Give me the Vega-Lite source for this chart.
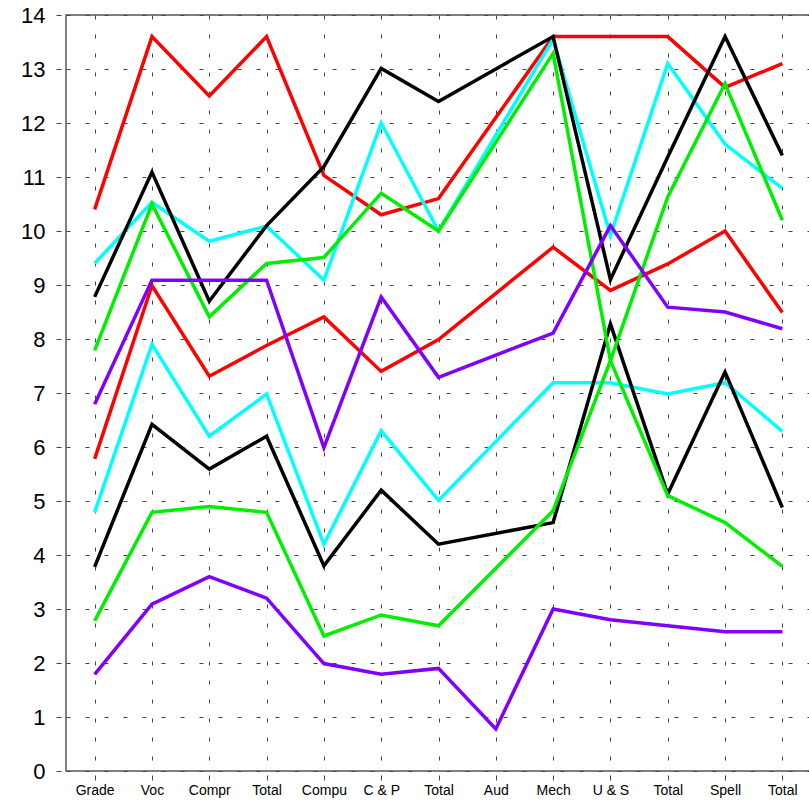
{
  "$schema": "https://vega.github.io/schema/vega-lite/v6.json",
  "width": 745,
  "height": 756,
  "autosize": "none",
  "padding": {"left": 66, "top": 15, "right": 0, "bottom": 29},
  "background": "white",
  "config": {
    "view": {"stroke": "#555555", "strokeWidth": 1.5},
    "font": "Liberation Sans"
  },
  "data": {
    "values": [
      {"series": "red1", "pos": 1, "v": 10.4}, {"series": "red1", "pos": 2, "v": 13.6}, {"series": "red1", "pos": 3, "v": 12.5}, {"series": "red1", "pos": 4, "v": 13.6}, {"series": "red1", "pos": 5, "v": 11.03}, {"series": "red1", "pos": 6, "v": 10.3}, {"series": "red1", "pos": 7, "v": 10.6}, {"series": "red1", "pos": 9, "v": 13.6}, {"series": "red1", "pos": 10, "v": 13.6}, {"series": "red1", "pos": 11, "v": 13.6}, {"series": "red1", "pos": 12, "v": 12.66}, {"series": "red1", "pos": 13, "v": 13.1},
      {"series": "red2", "pos": 1, "v": 5.78}, {"series": "red2", "pos": 2, "v": 8.99}, {"series": "red2", "pos": 3, "v": 7.31}, {"series": "red2", "pos": 4, "v": 7.88}, {"series": "red2", "pos": 5, "v": 8.41}, {"series": "red2", "pos": 6, "v": 7.4}, {"series": "red2", "pos": 7, "v": 7.99}, {"series": "red2", "pos": 9, "v": 9.7}, {"series": "red2", "pos": 10, "v": 8.9}, {"series": "red2", "pos": 11, "v": 9.39}, {"series": "red2", "pos": 12, "v": 10.0}, {"series": "red2", "pos": 13, "v": 8.49},
      {"series": "cyan1", "pos": 1, "v": 9.4}, {"series": "cyan1", "pos": 2, "v": 10.53}, {"series": "cyan1", "pos": 3, "v": 9.81}, {"series": "cyan1", "pos": 4, "v": 10.09}, {"series": "cyan1", "pos": 5, "v": 9.09}, {"series": "cyan1", "pos": 6, "v": 12.0}, {"series": "cyan1", "pos": 7, "v": 10.0}, {"series": "cyan1", "pos": 9, "v": 13.55}, {"series": "cyan1", "pos": 10, "v": 9.92}, {"series": "cyan1", "pos": 11, "v": 13.1}, {"series": "cyan1", "pos": 12, "v": 11.61}, {"series": "cyan1", "pos": 13, "v": 10.79},
      {"series": "cyan2", "pos": 1, "v": 4.79}, {"series": "cyan2", "pos": 2, "v": 7.9}, {"series": "cyan2", "pos": 3, "v": 6.2}, {"series": "cyan2", "pos": 4, "v": 6.98}, {"series": "cyan2", "pos": 5, "v": 4.2}, {"series": "cyan2", "pos": 6, "v": 6.3}, {"series": "cyan2", "pos": 7, "v": 5.01}, {"series": "cyan2", "pos": 9, "v": 7.19}, {"series": "cyan2", "pos": 10, "v": 7.19}, {"series": "cyan2", "pos": 11, "v": 6.98}, {"series": "cyan2", "pos": 12, "v": 7.19}, {"series": "cyan2", "pos": 13, "v": 6.29},
      {"series": "black1", "pos": 1, "v": 8.78}, {"series": "black1", "pos": 2, "v": 11.09}, {"series": "black1", "pos": 3, "v": 8.7}, {"series": "black1", "pos": 4, "v": 10.1}, {"series": "black1", "pos": 5, "v": 11.19}, {"series": "black1", "pos": 6, "v": 13.01}, {"series": "black1", "pos": 7, "v": 12.4}, {"series": "black1", "pos": 9, "v": 13.6}, {"series": "black1", "pos": 10, "v": 9.1}, {"series": "black1", "pos": 11, "v": 11.37}, {"series": "black1", "pos": 12, "v": 13.6}, {"series": "black1", "pos": 13, "v": 11.4},
      {"series": "black2", "pos": 1, "v": 3.78}, {"series": "black2", "pos": 2, "v": 6.42}, {"series": "black2", "pos": 3, "v": 5.59}, {"series": "black2", "pos": 4, "v": 6.2}, {"series": "black2", "pos": 5, "v": 3.8}, {"series": "black2", "pos": 6, "v": 5.2}, {"series": "black2", "pos": 7, "v": 4.2}, {"series": "black2", "pos": 9, "v": 4.6}, {"series": "black2", "pos": 10, "v": 8.28}, {"series": "black2", "pos": 11, "v": 5.13}, {"series": "black2", "pos": 12, "v": 7.39}, {"series": "black2", "pos": 13, "v": 4.88},
      {"series": "green1", "pos": 1, "v": 7.79}, {"series": "green1", "pos": 2, "v": 10.5}, {"series": "green1", "pos": 3, "v": 8.41}, {"series": "green1", "pos": 4, "v": 9.4}, {"series": "green1", "pos": 5, "v": 9.51}, {"series": "green1", "pos": 6, "v": 10.7}, {"series": "green1", "pos": 7, "v": 10.0}, {"series": "green1", "pos": 9, "v": 13.29}, {"series": "green1", "pos": 10, "v": 7.6}, {"series": "green1", "pos": 11, "v": 5.1}, {"series": "green1", "pos": 12, "v": 4.6}, {"series": "green1", "pos": 13, "v": 3.79},
      {"series": "green2", "pos": 1, "v": 2.78}, {"series": "green2", "pos": 2, "v": 4.79}, {"series": "green2", "pos": 3, "v": 4.9}, {"series": "green2", "pos": 4, "v": 4.79}, {"series": "green2", "pos": 5, "v": 2.5}, {"series": "green2", "pos": 6, "v": 2.89}, {"series": "green2", "pos": 7, "v": 2.69}, {"series": "green2", "pos": 9, "v": 4.82}, {"series": "green2", "pos": 10, "v": 7.6}, {"series": "green2", "pos": 11, "v": 10.63}, {"series": "green2", "pos": 12, "v": 12.73}, {"series": "green2", "pos": 13, "v": 10.2},
      {"series": "purple1", "pos": 1, "v": 6.79}, {"series": "purple1", "pos": 2, "v": 9.09}, {"series": "purple1", "pos": 3, "v": 9.09}, {"series": "purple1", "pos": 4, "v": 9.09}, {"series": "purple1", "pos": 5, "v": 5.99}, {"series": "purple1", "pos": 6, "v": 8.78}, {"series": "purple1", "pos": 7, "v": 7.29}, {"series": "purple1", "pos": 9, "v": 8.11}, {"series": "purple1", "pos": 10, "v": 10.1}, {"series": "purple1", "pos": 11, "v": 8.59}, {"series": "purple1", "pos": 12, "v": 8.5}, {"series": "purple1", "pos": 13, "v": 8.19},
      {"series": "purple2", "pos": 1, "v": 1.79}, {"series": "purple2", "pos": 2, "v": 3.09}, {"series": "purple2", "pos": 3, "v": 3.6}, {"series": "purple2", "pos": 4, "v": 3.2}, {"series": "purple2", "pos": 5, "v": 1.99}, {"series": "purple2", "pos": 6, "v": 1.79}, {"series": "purple2", "pos": 7, "v": 1.9}, {"series": "purple2", "pos": 8, "v": 0.78}, {"series": "purple2", "pos": 9, "v": 3.0}, {"series": "purple2", "pos": 10, "v": 2.8}, {"series": "purple2", "pos": 11, "v": 2.69}, {"series": "purple2", "pos": 12, "v": 2.58}, {"series": "purple2", "pos": 13, "v": 2.58}
    ]
  },
  "mark": {"type": "line", "strokeWidth": 3.5, "clip": true},
  "encoding": {
    "x": {
      "field": "pos",
      "type": "quantitative",
      "scale": {"domain": [0.5, 13.5], "nice": false, "zero": false},
      "axis": {
        "values": [1, 2, 3, 4, 5, 6, 7, 8, 9, 10, 11, 12, 13],
        "labelExpr": "['', 'Grade', 'Voc', 'Compr', 'Total', 'Compu', 'C & P', 'Total', 'Aud', 'Mech', 'U & S', 'Total', 'Spell', 'Total'][datum.value]",
        "title": null,
        "domain": false,
        "offset": 4,
        "tickSize": 5,
        "tickColor": "#444444",
        "labelFontSize": 14,
        "labelColor": "#000000",
        "labelPadding": 3,
        "labelFont": "Liberation Sans",
        "grid": true,
        "gridDash": [4, 15],
        "gridColor": "#444444",
        "gridOpacity": 1,
        "gridWidth": 1
      }
    },
    "y": {
      "field": "v",
      "type": "quantitative",
      "scale": {"domain": [0, 14], "nice": false},
      "axis": {
        "values": [0, 1, 2, 3, 4, 5, 6, 7, 8, 9, 10, 11, 12, 13, 14],
        "title": null,
        "domain": false,
        "offset": 5,
        "tickSize": 5,
        "tickColor": "#444444",
        "labelFontSize": 22,
        "labelColor": "#000000",
        "labelPadding": 11,
        "labelFont": "Liberation Sans",
        "grid": true,
        "gridDash": [4, 15],
        "gridColor": "#444444",
        "gridOpacity": 1,
        "gridWidth": 1
      }
    },
    "color": {
      "field": "series",
      "type": "nominal",
      "scale": {
        "domain": ["red1", "red2", "cyan1", "cyan2", "black1", "black2", "green1", "green2", "purple1", "purple2"],
        "range": ["#ff0000", "#ff0000", "#00ffff", "#00ffff", "#000000", "#000000", "#00ee00", "#00ee00", "#8000ff", "#8000ff"]
      },
      "legend": null
    }
  }
}
